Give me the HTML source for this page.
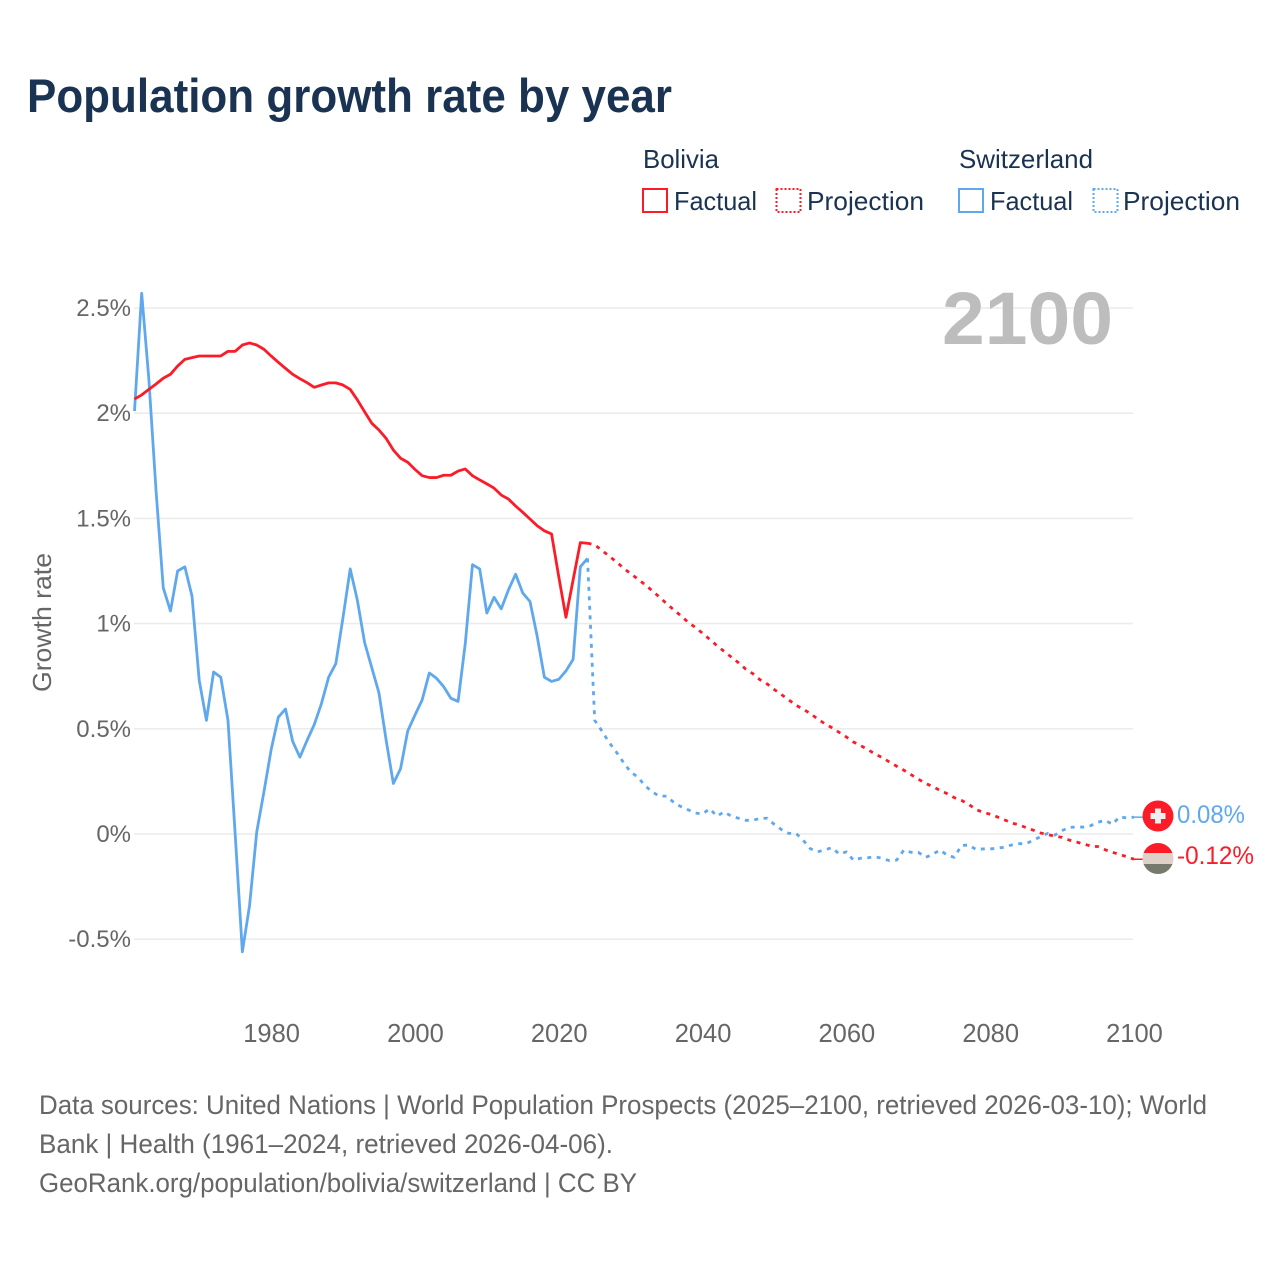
<!DOCTYPE html>
<html lang="en">
<head>
<meta charset="utf-8">
<title>Population growth rate by year</title>
<style>
html,body{margin:0;padding:0;background:#fff;}
svg{display:block;font-family:"Liberation Sans",sans-serif;}
</style>
</head>
<body>
<svg id="chart" xmlns="http://www.w3.org/2000/svg" width="1280" height="1280" viewBox="0 0 1280 1280">
  <rect x="0" y="0" width="1280" height="1280" fill="#ffffff"/>
  <text x="27" y="112" font-size="47" font-weight="700" fill="#1a3352" textLength="645" lengthAdjust="spacingAndGlyphs">Population growth rate by year</text>

  <g font-size="26" fill="#1a3352">
    <text x="643" y="168" textLength="76" lengthAdjust="spacingAndGlyphs">Bolivia</text>
    <text x="959" y="168" textLength="134" lengthAdjust="spacingAndGlyphs">Switzerland</text>
    <rect x="643" y="189" width="24" height="23" fill="none" stroke="#fc1c28" stroke-width="2"/>
    <text x="674" y="210" textLength="83" lengthAdjust="spacingAndGlyphs">Factual</text>
    <rect x="776.5" y="189" width="24" height="23" fill="none" stroke="#fc1c28" stroke-width="2" stroke-dasharray="2 2"/>
    <text x="807" y="210" textLength="117" lengthAdjust="spacingAndGlyphs">Projection</text>
    <rect x="959" y="189" width="24" height="23" fill="none" stroke="#5fa8ee" stroke-width="2"/>
    <text x="990" y="210" textLength="83" lengthAdjust="spacingAndGlyphs">Factual</text>
    <rect x="1093.5" y="189" width="24" height="23" fill="none" stroke="#5fa8ee" stroke-width="2" stroke-dasharray="2 2"/>
    <text x="1123" y="210" textLength="117" lengthAdjust="spacingAndGlyphs">Projection</text>
  </g>

  <g id="grid"></g>
  <g id="yticks" font-size="24" fill="#666666" text-anchor="end"></g>
  <g id="xticks" font-size="25.5" fill="#666666" text-anchor="middle"></g>
  <text transform="translate(51,692) rotate(-90)" font-size="26" fill="#666666" textLength="139" lengthAdjust="spacingAndGlyphs">Growth rate</text>
  <text x="942" y="344" font-size="74" font-weight="700" fill="#bdbdbd" textLength="171" lengthAdjust="spacingAndGlyphs">2100</text>

  <g id="series" fill="none" stroke-linejoin="round"></g>

  <defs>
    <clipPath id="flag-clip-bo"><circle cx="1158" cy="858.5" r="15.5"/></clipPath>
  </defs>
  <g>
    <circle cx="1158" cy="816" r="15.5" fill="#fc1c28"/>
    <rect x="1155" y="808.5" width="6" height="15" fill="#eeeeee"/>
    <rect x="1150.5" y="813" width="15" height="6" fill="#eeeeee"/>
  </g>
  <g clip-path="url(#flag-clip-bo)">
    <rect x="1142" y="842" width="32" height="11" fill="#fc1c28"/>
    <rect x="1142" y="853" width="32" height="11" fill="#ddd1c8"/>
    <rect x="1142" y="864" width="32" height="11" fill="#757a6d"/>
  </g>
  <text x="1177" y="823" font-size="25" fill="#5fa8ee" textLength="68" lengthAdjust="spacingAndGlyphs">0.08%</text>
  <text x="1177" y="864" font-size="25" fill="#fc1c28" textLength="77" lengthAdjust="spacingAndGlyphs">-0.12%</text>

  <g font-size="26.5" fill="#666666">
    <text x="39" y="1114" textLength="1168" lengthAdjust="spacingAndGlyphs">Data sources: United Nations | World Population Prospects (2025–2100, retrieved 2026-03-10); World</text>
    <text x="39" y="1153" textLength="574" lengthAdjust="spacingAndGlyphs">Bank | Health (1961–2024, retrieved 2026-04-06).</text>
    <text x="39" y="1192" textLength="598" lengthAdjust="spacingAndGlyphs">GeoRank.org/population/bolivia/switzerland | CC BY</text>
  </g>
</svg>
<script>
var yTickValues = [2.5, 2, 1.5, 1, 0.5, 0, -0.5];
var yTickLabels = ["2.5%", "2%", "1.5%", "1%", "0.5%", "0%", "-0.5%"];
var xTickYears = [1980, 2000, 2020, 2040, 2060, 2080, 2100];
var factualStartYear = 1961;
var projectionStartYear = 2024;
var boliviaFactual = [2.067,2.087,2.113,2.139,2.166,2.185,2.224,2.256,2.264,2.272,2.272,2.272,2.272,2.294,2.294,2.324,2.334,2.324,2.304,2.272,2.242,2.213,2.185,2.164,2.145,2.123,2.134,2.144,2.144,2.134,2.113,2.063,2.007,1.952,1.92,1.88,1.825,1.786,1.767,1.733,1.703,1.694,1.694,1.705,1.705,1.725,1.735,1.703,1.683,1.664,1.644,1.611,1.592,1.559,1.529,1.497,1.465,1.441,1.426,1.223,1.03,1.208,1.385,1.382];
var boliviaProjection = [1.382,1.375,1.348,1.321,1.294,1.264,1.237,1.212,1.185,1.156,1.126,1.095,1.065,1.037,1.006,0.982,0.954,0.925,0.895,0.868,0.841,0.814,0.784,0.762,0.733,0.713,0.686,0.662,0.637,0.612,0.593,0.572,0.547,0.524,0.505,0.483,0.461,0.437,0.42,0.401,0.38,0.363,0.342,0.322,0.303,0.282,0.261,0.241,0.225,0.208,0.192,0.173,0.16,0.141,0.117,0.103,0.094,0.081,0.067,0.052,0.044,0.03,0.018,0.005,-0.003,-0.01,-0.016,-0.029,-0.038,-0.048,-0.057,-0.06,-0.075,-0.087,-0.097,-0.108,-0.12];
var switzerlandFactual = [2.01,2.57,2.16,1.63,1.17,1.06,1.25,1.27,1.13,0.73,0.54,0.77,0.745,0.54,0.0,-0.56,-0.34,0.01,0.2,0.4,0.555,0.594,0.44,0.365,0.445,0.52,0.62,0.745,0.81,1.03,1.26,1.11,0.91,0.79,0.67,0.445,0.24,0.31,0.49,0.565,0.637,0.765,0.74,0.7,0.645,0.63,0.905,1.28,1.26,1.05,1.125,1.07,1.16,1.235,1.145,1.105,0.94,0.745,0.725,0.735,0.775,0.83,1.27,1.31];
var switzerlandProjection = [1.31,0.54,0.49,0.435,0.39,0.34,0.295,0.27,0.23,0.2,0.18,0.18,0.15,0.13,0.115,0.1,0.095,0.12,0.085,0.105,0.085,0.075,0.065,0.065,0.075,0.075,0.045,0.02,0.003,0.003,-0.03,-0.07,-0.085,-0.075,-0.065,-0.095,-0.085,-0.125,-0.115,-0.113,-0.108,-0.116,-0.127,-0.124,-0.076,-0.087,-0.087,-0.111,-0.097,-0.076,-0.1,-0.111,-0.055,-0.052,-0.073,-0.071,-0.071,-0.067,-0.063,-0.052,-0.046,-0.046,-0.029,-0.013,0.003,-0.005,0.016,0.032,0.033,0.033,0.04,0.056,0.065,0.046,0.082,0.076,0.08];

var SVG_NS = 'http://www.w3.org/2000/svg';
var RED = '#fc1c28';
var BLUE = '#5fa8ee';

function xScale(year) { return 134.5 + (year - 1961) * (999.5 / 139); }
function yScale(value) { return 834 - value * 210.4; }
function seriesPath(values, startYear) {
  var d = '';
  for (var i = 0; i < values.length; i++) {
    d += (i ? 'L' : 'M') + xScale(startYear + i).toFixed(2) + ' ' + yScale(values[i]).toFixed(2);
  }
  return d;
}

var gridGroup = document.getElementById('grid');
var yTickGroup = document.getElementById('yticks');
var xTickGroup = document.getElementById('xticks');
var seriesGroup = document.getElementById('series');

yTickValues.forEach(function (v, i) {
  var line = document.createElementNS(SVG_NS, 'line');
  
  
  line.setAttribute('x1', 134);
  line.setAttribute('x2', 1133);
  line.setAttribute('y1', yScale(v));
  line.setAttribute('y2', yScale(v));
  line.setAttribute('stroke', '#ececec');
  line.setAttribute('stroke-width', 1.6);
  gridGroup.appendChild(line);

  var label = document.createElementNS(SVG_NS, 'text');
  
  
  label.setAttribute('x', 131);
  label.setAttribute('y', yScale(v) + 8);
  label.textContent = yTickLabels[i];
  yTickGroup.appendChild(label);
});

xTickYears.forEach(function (year) {
  var label = document.createElementNS(SVG_NS, 'text');
  
  
  label.setAttribute('x', xScale(year) + 0.5);
  label.setAttribute('y', 1042);
  label.textContent = String(year);
  xTickGroup.appendChild(label);
});

function addSeries(name, values, startYear, color, dashed) {
  var path = document.createElementNS(SVG_NS, 'path');
  
  
  path.setAttribute('d', seriesPath(values, startYear));
  path.setAttribute('stroke', color);
  path.setAttribute('stroke-width', dashed ? 2.8 : 2.8);
  if (dashed) { path.setAttribute('stroke-dasharray', '4 5.5'); }
  seriesGroup.appendChild(path);
}

function addConnector(name, values, color) {
  var lastYear = projectionStartYear + values.length - 1;
  var line = document.createElementNS(SVG_NS, 'line');
  
  
  line.setAttribute('x1', xScale(lastYear));
  line.setAttribute('x2', 1144);
  line.setAttribute('y1', yScale(values[values.length - 1]));
  line.setAttribute('y2', yScale(values[values.length - 1]));
  line.setAttribute('stroke', color);
  line.setAttribute('stroke-width', 1.5);
  seriesGroup.appendChild(line);
}

addSeries('switzerland-projection-line', switzerlandProjection, projectionStartYear, BLUE, true);
addSeries('switzerland-factual-line', switzerlandFactual, factualStartYear, BLUE, false);
addSeries('bolivia-projection-line', boliviaProjection, projectionStartYear, RED, true);
addSeries('bolivia-factual-line', boliviaFactual, factualStartYear, RED, false);
addConnector('switzerland-flag-connector', switzerlandProjection, BLUE);
addConnector('bolivia-flag-connector', boliviaProjection, RED);
</script>
</body>
</html>
